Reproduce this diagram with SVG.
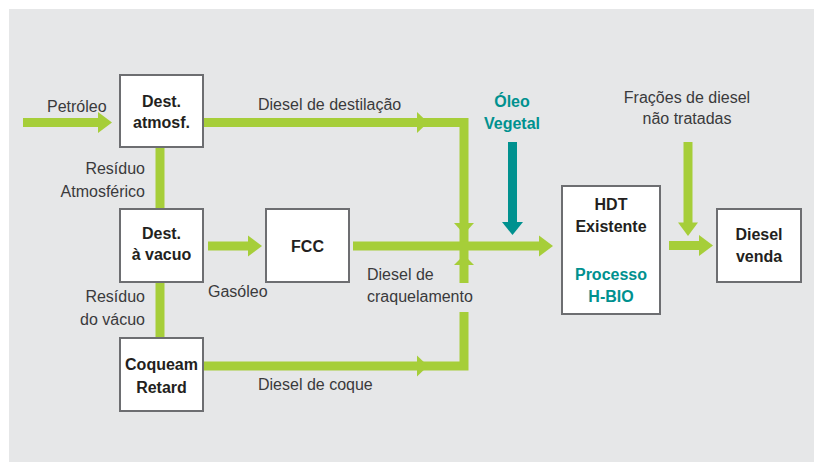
<svg xmlns="http://www.w3.org/2000/svg" width="814" height="462" viewBox="0 0 814 462">
<defs>
<style>
.box{fill:#ffffff;stroke:#6d6e71;stroke-width:2}
.bt{font-family:"Liberation Sans",Arial,sans-serif;font-size:16px;font-weight:bold;fill:#231f20;text-anchor:middle}
.lt{font-family:"Liberation Sans",Arial,sans-serif;font-size:16px;fill:#3a3a3c}
.tl{font-family:"Liberation Sans",Arial,sans-serif;font-size:16px;font-weight:bold;fill:#00918f;text-anchor:middle}
.g{stroke:#a6ce39;stroke-width:9;fill:none}
.gh{fill:#a6ce39}
.t{stroke:#00918f;stroke-width:9;fill:none}
.th{fill:#00918f}
</style>
</defs>
<rect x="9" y="9" width="805" height="453" fill="#e6e7e8"/>

<g id="connectors">
<!-- Petroleo -->
<line class="g" x1="23" y1="122.5" x2="99" y2="122.5"/>
<polygon class="gh" points="98,112 112,122.5 98,133"/>
<!-- Diesel de destilacao -->
<polyline class="g" points="203,122.5 464,122.5 464,283"/>
<polygon class="gh" points="417,112 428,122.5 417,133"/>
<polygon class="gh" points="454,223 474,223 464,234"/>
<polygon class="gh" points="454,265 474,265 464,255"/>
<!-- Diesel de coque -->
<polyline class="g" points="203,366 464,366 464,312"/>
<polygon class="gh" points="417,355.5 428,366 417,376.5"/>
<!-- residuo atmosferico -->
<line class="g" x1="160" y1="147" x2="160" y2="209"/>
<!-- residuo vacuo -->
<line class="g" x1="160" y1="282" x2="160" y2="338"/>
<!-- gasoleo -->
<line class="g" x1="208" y1="246" x2="249" y2="246"/>
<polygon class="gh" points="248,235.5 262,246 248,256.5"/>
<!-- FCC to HDT -->
<line class="g" x1="353" y1="246" x2="541" y2="246"/>
<polygon class="gh" points="539,235.5 553,246 539,256.5"/>
<!-- Oleo vegetal -->
<line class="t" x1="512.5" y1="142" x2="512.5" y2="224"/>
<polygon class="th" points="502,222 523,222 512.5,235"/>
<!-- Fracoes -->
<line class="g" x1="688" y1="142" x2="688" y2="224"/>
<polygon class="gh" points="678,222.5 698,222.5 688,236"/>
<!-- HDT to venda -->
<line class="g" x1="669" y1="245.5" x2="701" y2="245.5"/>
<polygon class="gh" points="699,235 713,245.5 699,256"/>
</g>

<g id="labels">
<text class="lt" x="47" y="112">Petróleo</text>
<text class="lt" x="258" y="110">Diesel de destilação</text>
<text class="lt" x="145" y="174" text-anchor="end">Resíduo</text>
<text class="lt" x="145" y="197" text-anchor="end">Atmosférico</text>
<text class="lt" x="208" y="297">Gasóleo</text>
<text class="lt" x="145" y="302" text-anchor="end">Resíduo</text>
<text class="lt" x="145" y="325" text-anchor="end">do vácuo</text>
<text class="lt" x="367" y="280">Diesel de</text>
<text class="lt" x="367" y="302">craquelamento</text>
<text class="lt" x="258" y="390">Diesel de coque</text>
<text class="tl" x="512" y="107">Óleo</text>
<text class="tl" x="512" y="129">Vegetal</text>
<text class="lt" x="687" y="103" text-anchor="middle">Frações de diesel</text>
<text class="lt" x="687" y="124" text-anchor="middle">não tratadas</text>
</g>

<g id="node-dest-atmosf">
<rect class="box" x="120" y="75" width="83" height="72"/>
<text class="bt" x="161.5" y="107">Dest.</text>
<text class="bt" x="161.5" y="128">atmosf.</text>
</g>
<g id="node-dest-vacuo">
<rect class="box" x="120" y="209" width="83" height="73"/>
<text class="bt" x="161.5" y="239">Dest.</text>
<text class="bt" x="161.5" y="260">à vacuo</text>
</g>
<g id="node-fcc">
<rect class="box" x="266" y="209" width="83" height="73"/>
<text class="bt" x="307.5" y="252">FCC</text>
</g>
<g id="node-coqueam">
<rect class="box" x="120" y="338" width="83" height="73"/>
<text class="bt" x="161.5" y="370">Coqueam</text>
<text class="bt" x="161.5" y="393">Retard</text>
</g>
<g id="node-hdt">
<rect class="box" x="562" y="186" width="98" height="128"/>
<text class="bt" x="611" y="210">HDT</text>
<text class="bt" x="611" y="232">Existente</text>
<text class="tl" x="611" y="280">Processo</text>
<text class="tl" x="611" y="302">H-BIO</text>
</g>
<g id="node-diesel-venda">
<rect class="box" x="717" y="209" width="84" height="73"/>
<text class="bt" x="759" y="240">Diesel</text>
<text class="bt" x="759" y="262">venda</text>
</g>
</svg>
